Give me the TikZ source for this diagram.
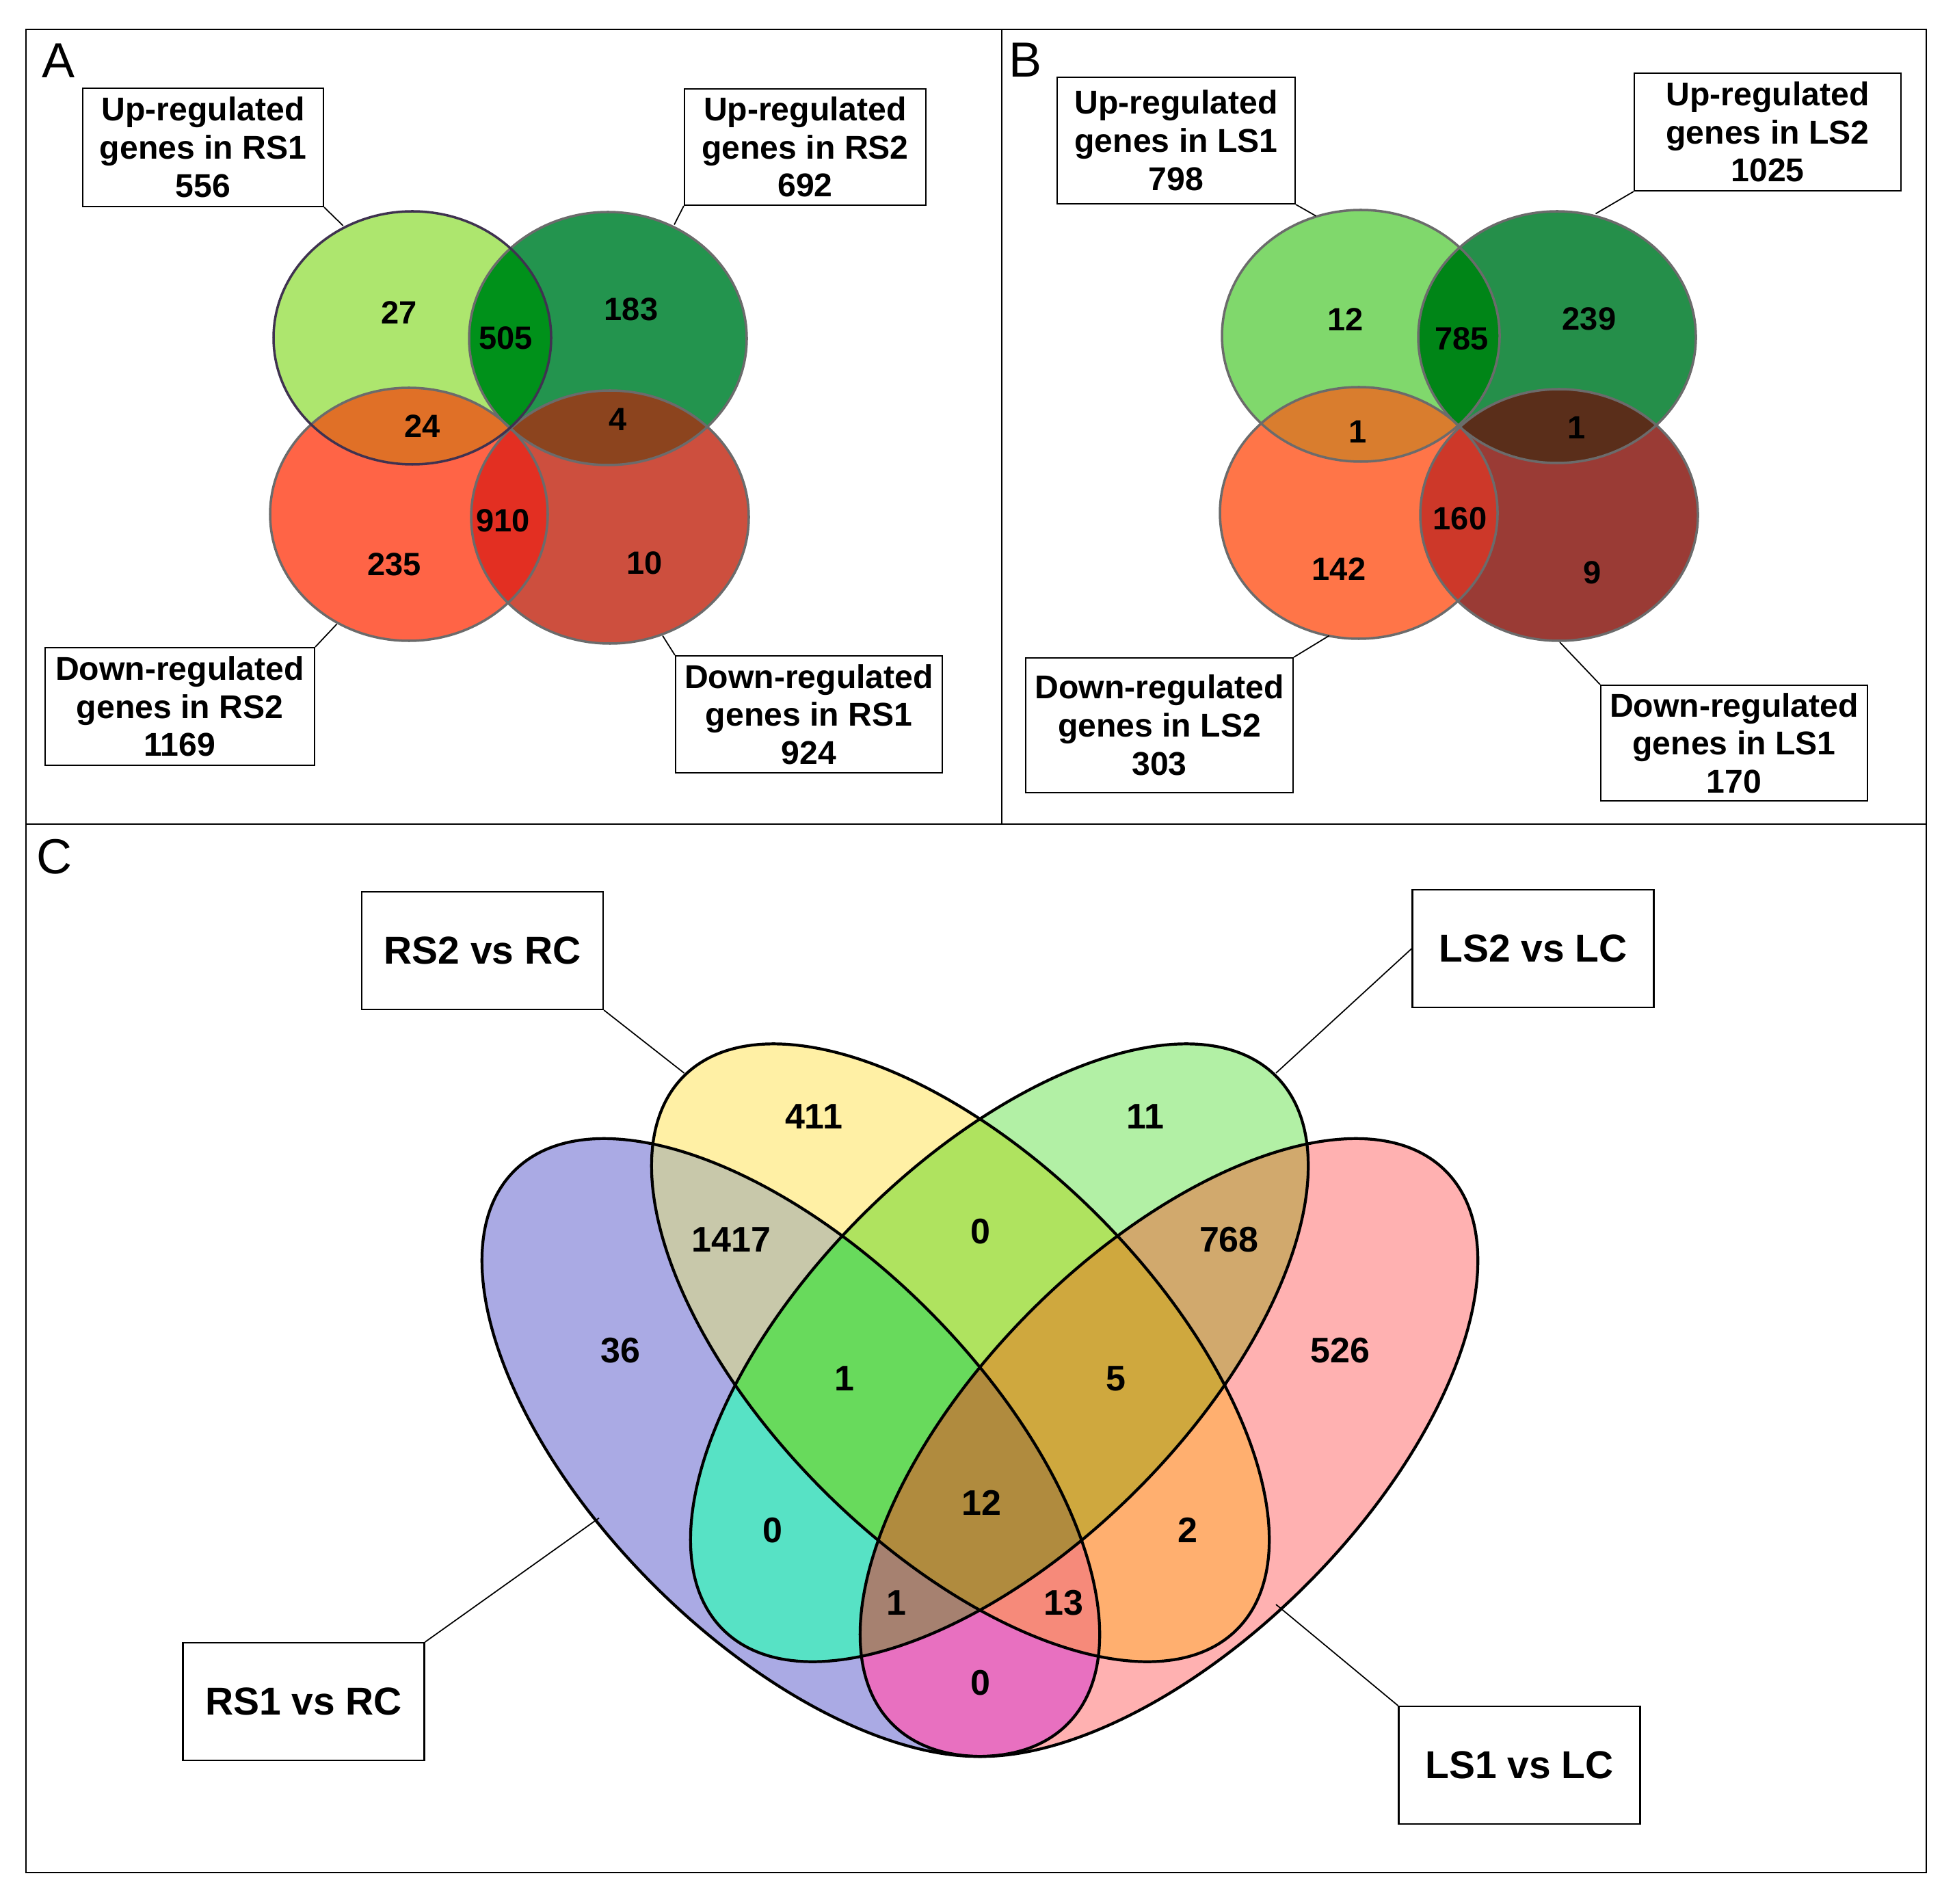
\documentclass[tikz,border=0pt]{standalone}
\usepackage{fontspec}
\setmainfont{Liberation Sans}
\usepackage{xcolor}
\usepackage{tikz}

\definecolor{aUp1}{HTML}{ADE66E}
\definecolor{aUp2}{HTML}{23944E}
\definecolor{aDn2}{HTML}{FF6446}
\definecolor{aDn1}{HTML}{CD4F3E}
\definecolor{aUpUp}{HTML}{00911A}
\definecolor{aMixL}{HTML}{E07027}
\definecolor{aMixR}{HTML}{8C441E}
\definecolor{aDnDn}{HTML}{E32F22}
\definecolor{aEdge}{HTML}{3F3250}
\definecolor{bUp1}{HTML}{80D86C}
\definecolor{bUp2}{HTML}{258F4A}
\definecolor{bDn2}{HTML}{FF7548}
\definecolor{bDn1}{HTML}{9A3B35}
\definecolor{bUpUp}{HTML}{008517}
\definecolor{bMixL}{HTML}{D97D2E}
\definecolor{bMixR}{HTML}{5A2E1A}
\definecolor{bDnDn}{HTML}{CD3829}
\definecolor{vA}{HTML}{AAAAE4}
\definecolor{vB}{HTML}{FFF0A5}
\definecolor{vC}{HTML}{B2F0A5}
\definecolor{vD}{HTML}{FFB1B1}
\definecolor{vAB}{HTML}{C8C8AA}
\definecolor{vAC}{HTML}{57E2C5}
\definecolor{vAD}{HTML}{E870C0}
\definecolor{vBC}{HTML}{AFE35F}
\definecolor{vBD}{HTML}{FFAF6F}
\definecolor{vCD}{HTML}{D1A96D}
\definecolor{vABC}{HTML}{68DA5C}
\definecolor{vABD}{HTML}{F68A7A}
\definecolor{vACD}{HTML}{A68170}
\definecolor{vBCD}{HTML}{CFA83E}
\definecolor{vABCD}{HTML}{B08B3E}

\begin{document}
\begin{tikzpicture}[
  frame/.style={line width=0.7pt},
  letter/.style={font=\fontsize{20.5pt}{24pt}\selectfont, inner sep=0pt},
  infobox/.style={draw, line width=0.6pt, align=center, inner sep=0pt, font=\fontsize{13.7pt}{15.85pt}\selectfont\bfseries},
  tagbox/.style={draw, line width=0.6pt, minimum width=3.53cm, minimum height=1.72cm, inner sep=0pt, font=\fontsize{16.2pt}{19pt}\selectfont\bfseries},
  num/.style={font=\fontsize{13.4pt}{16pt}\selectfont\bfseries, inner sep=0pt},
  bignum/.style={font=\fontsize{14.8pt}{17pt}\selectfont\bfseries, inner sep=0pt},
  ring/.style={draw=black!58, line width=1pt},
  petal/.style={draw=black, line width=1.2pt},
  lead/.style={line width=0.5pt}
]
\useasboundingbox (0,0) rectangle (28.59,-27.84);

\draw[frame] (0.38,-0.43) rectangle (28.17,-27.38);
\draw[frame] (14.65,-0.43) -- (14.65,-12.05);
\draw[frame] (0.38,-12.05) -- (28.17,-12.05);

\node[letter] (tagA) at (0.86,-0.89) {A};
\node[letter] (tagB) at (14.99,-0.88) {B};
\node[letter] (tagC) at (0.80,-12.53) {C};

% panel A
\coordinate (a1) at (6.03,-4.94);
\coordinate (a2) at (8.89,-4.95);
\coordinate (a3) at (5.98,-7.52);
\coordinate (a4) at (8.92,-7.56);
\foreach \c/\col in {a1/aUp1, a2/aUp2, a3/aDn2, a4/aDn1}
  \fill[fill=\col] (\c) ellipse (2.03cm and 1.85cm);
\foreach \p/\q/\col in {a1/a2/aUpUp, a1/a3/aMixL, a2/a4/aMixR, a3/a4/aDnDn} {
  \begin{scope}
    \clip (\p) ellipse (2.03cm and 1.85cm);
    \fill[fill=\col] (\q) ellipse (2.03cm and 1.85cm);
  \end{scope}
}
\foreach \c in {a2,a3,a4}
  \draw[ring] (\c) ellipse (2.03cm and 1.85cm);
\draw[ring, draw=aEdge] (a1) ellipse (2.03cm and 1.85cm);

\node[num] (nA1) at (5.836,-4.57) {27};
\node[num] (nA2) at (7.397,-4.947) {505};
\node[num] (nA3) at (9.23,-4.52) {183};
\node[num] (nA4) at (6.175,-6.23) {24};
\node[num] (nA5) at (9.035,-6.135) {4};
\node[num] (nA6) at (7.353,-7.61) {910};
\node[num] (nA7) at (5.763,-8.253) {235};
\node[num] (nA8) at (9.423,-8.23) {10};

\node[infobox, minimum width=3.52cm, minimum height=1.73cm] (upRSa) at (2.97,-2.155) {Up-regulated\\genes in RS1\\556};
\node[infobox, minimum width=3.53cm, minimum height=1.70cm] (upRSb) at (11.775,-2.15) {Up-regulated\\genes in RS2\\692};
\node[infobox, minimum width=3.94cm, minimum height=1.72cm] (dnRSb) at (2.63,-10.33) {Down-regulated\\genes in RS2\\1169};
\node[infobox, minimum width=3.90cm, minimum height=1.71cm] (dnRSa) at (11.83,-10.445) {Down-regulated\\genes in RS1\\924};
\coordinate (pUa) at (5.017,-3.30);
\coordinate (pUb) at (9.86,-3.285);
\coordinate (pDb) at (4.925,-9.126);
\coordinate (pDa) at (9.69,-9.295);
\draw[lead] (upRSa.south east) -- (pUa);
\draw[lead] (upRSb.south west) -- (pUb);
\draw[lead] (dnRSb.north east) -- (pDb);
\draw[lead] (dnRSa.north west) -- (pDa);

% panel B
\coordinate (b1) at (19.90,-4.91);
\coordinate (b2) at (22.77,-4.93);
\coordinate (b3) at (19.87,-7.50);
\coordinate (b4) at (22.80,-7.53);
\foreach \c/\col in {b1/bUp1, b2/bUp2, b3/bDn2, b4/bDn1}
  \fill[fill=\col] (\c) ellipse (2.03cm and 1.84cm);
\foreach \p/\q/\col in {b1/b2/bUpUp, b1/b3/bMixL, b2/b4/bMixR, b3/b4/bDnDn} {
  \begin{scope}
    \clip (\p) ellipse (2.03cm and 1.84cm);
    \fill[fill=\col] (\q) ellipse (2.03cm and 1.84cm);
  \end{scope}
}
\foreach \c in {b1,b2,b3,b4}
  \draw[ring] (\c) ellipse (2.03cm and 1.84cm);

\node[num] (nB1) at (19.676,-4.675) {12};
\node[num] (nB2) at (21.374,-4.952) {785};
\node[num] (nB3) at (23.24,-4.665) {239};
\node[num] (nB4) at (19.853,-6.316) {1};
\node[num] (nB5) at (23.058,-6.253) {1};
\node[num] (nB6) at (21.35,-7.583) {160};
\node[num] (nB7) at (19.58,-8.325) {142};
\node[num] (nB8) at (23.287,-8.372) {9};

\node[infobox, minimum width=3.48cm, minimum height=1.85cm] (upLSa) at (17.20,-2.055) {Up-regulated\\genes in LS1\\798};
\node[infobox, minimum width=3.90cm, minimum height=1.72cm] (upLSb) at (25.85,-1.93) {Up-regulated\\genes in LS2\\1025};
\node[infobox, minimum width=3.91cm, minimum height=1.97cm] (dnLSb) at (16.955,-10.605) {Down-regulated\\genes in LS2\\303};
\node[infobox, minimum width=3.90cm, minimum height=1.69cm] (dnLSa) at (25.36,-10.865) {Down-regulated\\genes in LS1\\170};
\coordinate (qUa) at (19.246,-3.159);
\coordinate (qUb) at (23.335,-3.125);
\coordinate (qDb) at (19.437,-9.295);
\coordinate (qDa) at (22.81,-9.39);
\draw[lead] (upLSa.south east) -- (qUa);
\draw[lead] (upLSb.south west) -- (qUb);
\draw[lead] (dnLSb.north east) -- (qDb);
\draw[lead] (dnLSa.north west) -- (qDa);

% panel C
\coordinate (eA) at (11.565,-21.165);
\coordinate (eB) at (14.045,-19.78);
\coordinate (eC) at (14.615,-19.78);
\coordinate (eD) at (17.095,-21.165);
\foreach \p/\pa/\col in {eA/-45/vA, eB/-45/vB, eC/45/vC, eD/45/vD}
  \fill[fill=\col, rotate around={\pa:(\p)}] (\p) ellipse (5.72cm and 2.84cm);
\foreach \p/\pa/\q/\qa/\col in {eA/-45/eB/-45/vAB, eA/-45/eC/45/vAC, eA/-45/eD/45/vAD,
                                eB/-45/eC/45/vBC, eB/-45/eD/45/vBD, eC/45/eD/45/vCD} {
  \begin{scope}
    \clip[rotate around={\pa:(\p)}] (\p) ellipse (5.72cm and 2.84cm);
    \fill[fill=\col, rotate around={\qa:(\q)}] (\q) ellipse (5.72cm and 2.84cm);
  \end{scope}
}
\foreach \p/\pa/\q/\qa/\w/\wa/\col in {eA/-45/eB/-45/eC/45/vABC, eA/-45/eB/-45/eD/45/vABD,
                                      eA/-45/eC/45/eD/45/vACD, eB/-45/eC/45/eD/45/vBCD} {
  \begin{scope}
    \clip[rotate around={\pa:(\p)}] (\p) ellipse (5.72cm and 2.84cm);
    \clip[rotate around={\qa:(\q)}] (\q) ellipse (5.72cm and 2.84cm);
    \fill[fill=\col, rotate around={\wa:(\w)}] (\w) ellipse (5.72cm and 2.84cm);
  \end{scope}
}
\begin{scope}
  \clip[rotate around={-45:(eA)}] (eA) ellipse (5.72cm and 2.84cm);
  \clip[rotate around={-45:(eB)}] (eB) ellipse (5.72cm and 2.84cm);
  \clip[rotate around={45:(eC)}] (eC) ellipse (5.72cm and 2.84cm);
  \fill[fill=vABCD, rotate around={45:(eD)}] (eD) ellipse (5.72cm and 2.84cm);
\end{scope}
\foreach \p/\pa in {eA/-45, eB/-45, eC/45, eD/45}
  \draw[petal, rotate around={\pa:(\p)}] (\p) ellipse (5.72cm and 2.84cm);

\node[bignum] (nC1) at (11.90,-16.33) {411};
\node[bignum] (nC2) at (16.75,-16.33) {11};
\node[bignum] (nC3) at (10.694,-18.13) {1417};
\node[bignum] (nC4) at (14.339,-18.006) {0};
\node[bignum] (nC5) at (17.974,-18.13) {768};
\node[bignum] (nC6) at (9.077,-19.747) {36};
\node[bignum] (nC7) at (19.60,-19.747) {526};
\node[bignum] (nC8) at (12.349,-20.158) {1};
\node[bignum] (nC9) at (16.32,-20.158) {5};
\node[bignum] (nC10) at (14.358,-21.976) {12};
\node[bignum] (nC11) at (11.296,-22.378) {0};
\node[bignum] (nC12) at (17.37,-22.378) {2};
\node[bignum] (nC13) at (13.114,-23.44) {1};
\node[bignum] (nC14) at (15.553,-23.44) {13};
\node[bignum] (nC15) at (14.339,-24.607) {0};

\node[tagbox] (rsTwo) at (7.057,-13.90) {RS2 vs RC};
\node[tagbox] (lsTwo) at (22.42,-13.87) {LS2 vs LC};
\node[tagbox] (rsOne) at (4.44,-24.88) {RS1 vs RC};
\node[tagbox] (lsOne) at (22.22,-25.81) {LS1 vs LC};
\coordinate (rB) at (10.005,-15.69);
\coordinate (rC) at (18.66,-15.69);
\coordinate (rA) at (8.76,-22.196);
\coordinate (rD) at (18.66,-23.46);
\draw[lead] (rsTwo.south east) -- (rB);
\draw[lead] (lsTwo.west) -- (rC);
\draw[lead] (rsOne.north east) -- (rA);
\draw[lead] (lsOne.north west) -- (rD);
\end{tikzpicture}
\end{document}
